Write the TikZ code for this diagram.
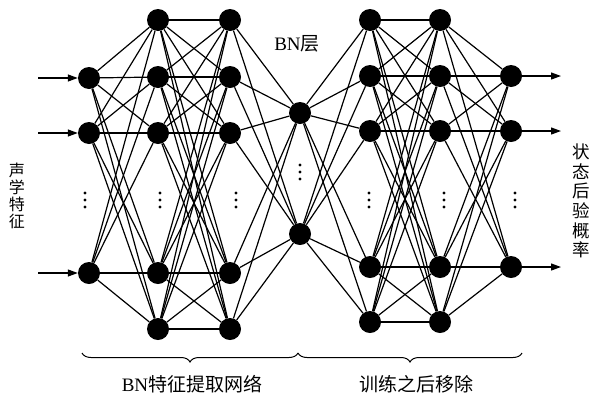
\documentclass[tikz,border=0pt]{standalone}
\usepackage{fontspec}
\setmainfont{Liberation Serif}
\newfontfamily\cjk{Noto Sans CJK SC}
\usetikzlibrary{arrows.meta,decorations.pathreplacing}
\tikzset{
  neuron/.style={circle,fill=black,inner sep=0pt,minimum size=22pt},
  conn/.style={line width=1.2pt},
  io/.style={line width=1.2pt,-{Triangle[length=10pt,width=7pt]}},
  vdot/.style={fill=black},
  brc/.style={decorate,decoration={brace,mirror,amplitude=9pt},line width=1pt},
  lbl/.style={inner sep=0pt}
}
\begin{document}
\begin{tikzpicture}[x=1pt,y=-1pt]
\useasboundingbox (0,0) rectangle (593,394);
% layer 1
\foreach \n/\y in {1/78,2/133,3/273} \node[neuron] (a\n) at (89,\y) {};
% layers 2,3
\foreach \n/\y in {1/20,2/77,3/133,4/273,5/329} {
  \node[neuron] (b\n) at (158,\y) {};
  \node[neuron] (c\n) at (230,\y) {};
}
% BN layer
\node[neuron] (d1) at (300,113) {};
\node[neuron] (d2) at (300,234) {};
% layers 5,6
\foreach \n/\y in {1/20,2/76,3/131,4/267,5/322} {
  \node[neuron] (e\n) at (370,\y) {};
  \node[neuron] (f\n) at (440,\y) {};
}
% output layer
\foreach \n/\y in {1/76,2/131,3/267} \node[neuron] (g\n) at (511,\y) {};
% connections
\foreach \i in {1,2,3} \foreach \j in {1,...,5} \draw[conn] (a\i) -- (b\j);
\foreach \i in {1,...,5} \foreach \j in {1,...,5} \draw[conn] (b\i) -- (c\j);
\foreach \i in {1,...,5} \foreach \j in {1,2} \draw[conn] (c\i) -- (d\j);
\foreach \i in {1,2} \foreach \j in {1,...,5} \draw[conn] (d\i) -- (e\j);
\foreach \i in {1,...,5} \foreach \j in {1,...,5} \draw[conn] (e\i) -- (f\j);
\foreach \i in {1,...,5} \foreach \j in {1,2,3} \draw[conn] (f\i) -- (g\j);
% input / output arrows
\foreach \n/\y in {1/78,2/133,3/273} {
  \coordinate (in\n) at (38,\y);
  \draw[io] (in\n) -- (a\n);
}
\foreach \n/\y in {1/76,2/131,3/267} {
  \coordinate (out\n) at (561,\y);
  \draw[io] (g\n) -- (out\n);
}
% vertical dots
\foreach \x/\y in {85/200,160/200,236/200,300/172,369/200,444/200,515/200} {
  \foreach \k in {-7,0,7} \fill[vdot] (\x,\y+\k) circle (1.6);
}
% braces
\coordinate (br1) at (82,353);
\coordinate (br2) at (298,353);
\coordinate (br3) at (522,353);
\draw[brc] (br1) -- (br2);
\draw[brc] (br2) -- (br3);
% labels
\node[lbl,font={\fontsize{19}{19}\selectfont}] (bnl) at (297,44) {BN{\cjk 层}};
\node[lbl,font={\fontsize{19}{19}\selectfont}] (lab1) at (192,384) {BN{\cjk 特征提取网络}};
\node[lbl,font={\fontsize{19}{19}\selectfont\cjk}] (lab2) at (416,384) {训练之后移除};
\node[lbl,align=center,font={\fontsize{16}{17}\selectfont\cjk}] (left) at (17,196) {声\\学\\特\\征};
\node[lbl,align=center,font={\fontsize{17.5}{19.6}\selectfont\cjk}] (right) at (581,201) {状\\态\\后\\验\\概\\率};
\end{tikzpicture}
\end{document}
